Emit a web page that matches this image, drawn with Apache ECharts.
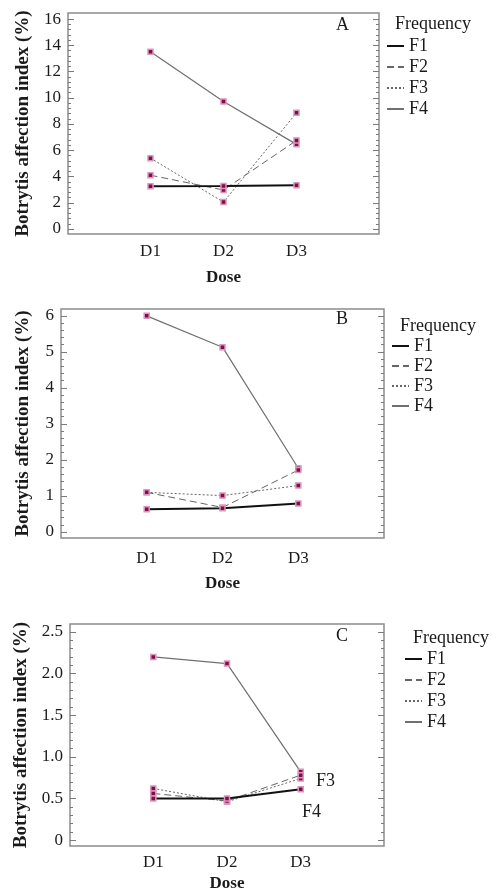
<!DOCTYPE html>
<html>
<head>
<meta charset="utf-8">
<script src="https://cdn.jsdelivr.net/npm/echarts@6/dist/echarts.min.js"></script>
<style>
  html, body { margin: 0; padding: 0; background: #fff; }
  #chart { width: 492px; height: 893px; }
</style>
</head>
<body>
<div id="chart"></div>
<script>
// categories
var doses = ["D1", "D2", "D3"];
var freqs = ["F1", "F2", "F3", "F4"];

// panel A values (F1..F4 over D1..D3)
var aF1 = [3.25, 3.27, 3.33];
var aF2 = [4.1, 2.97, 6.75];
var aF3 = [5.4, 2.05, 8.85];
var aF4 = [13.5, 9.72, 6.45];

// panel B
var bF1 = [0.63, 0.66, 0.79];
var bF2 = [1.1, 0.68, 1.72];
var bF3 = [1.1, 1.01, 1.29];
var bF4 = [6.0, 5.13, 1.77];

// panel C
var cF1 = [0.5, 0.5, 0.61];
var cF2 = [0.56, 0.47, 0.78];
var cF3 = [0.62, 0.46, 0.74];
var cF4 = [2.2, 2.12, 0.82];

// tick labels
var ticksA = [0, 2, 4, 6, 8, 10, 12, 14, 16];
var ticksB = [0, 1, 2, 3, 4, 5, 6];
var ticksC = [0, 0.5, 1.0, 1.5, 2.0, 2.5];
var doseTicks = [0, 1, 2];

function minors(ticks, parts) {
  var out = [];
  for (var i = 0; i < ticks.length - 1; i++) {
    var step = (ticks[i + 1] - ticks[i]) / parts;
    for (var k = 1; k < parts; k++) out.push(+(ticks[i] + step * k).toFixed(4));
  }
  return out;
}

var serif = "'Liberation Serif', 'Times New Roman', serif";
var txt = "#1a1a1a";
var tickColor = "#7a7a7a";

var lineStyles = {
  F1: { color: "#111", width: 2, type: "solid" },
  F2: { color: "#666", width: 1, type: [7, 4] },
  F3: { color: "#666", width: 1, type: [2, 2] },
  F4: { color: "#707070", width: 1.2, type: "solid" }
};

var panels = [
  { grid: { left: 68, top: 13, width: 311, height: 221 }, min: -0.38, max: 16.46, ticks: ticksA,
    fmt: function (v) { return String(v); }, data: [aF1, aF2, aF3, aF4],
    labelMargin: 9, nameGap: 35, yNameGap: 35 },
  { grid: { left: 61, top: 309, width: 323, height: 229 }, min: -0.167, max: 6.19, ticks: ticksB,
    fmt: function (v) { return String(v); }, data: [bF1, bF2, bF3, bF4],
    labelMargin: 12, nameGap: 37, yNameGap: 28 },
  { grid: { left: 70, top: 624, width: 314, height: 224 }, min: -0.071, max: 2.595, ticks: ticksC,
    fmt: function (v) { return v === 0 ? "0" : v.toFixed(1); }, data: [cF1, cF2, cF3, cF4],
    labelMargin: 8, nameGap: 29, yNameGap: 37 }
];

var grids = [], xAxes = [], yAxes = [], series = [];

panels.forEach(function (p, gi) {
  grids.push(Object.assign({ show: true, borderColor: "#8c8c8c", borderWidth: 1.5, backgroundColor: "#fff" }, p.grid));

  xAxes.push({
    type: "value", gridIndex: gi, min: -1.13, max: 3.13,
    name: "Dose", nameLocation: "middle", nameGap: p.nameGap,
    nameTextStyle: { fontFamily: serif, fontSize: 17, fontWeight: "bold", color: txt },
    axisLine: { show: false, onZero: false }, axisTick: { show: false }, splitLine: { show: false },
    axisLabel: {
      customValues: doseTicks, margin: p.labelMargin,
      fontFamily: serif, fontSize: 17, color: txt,
      formatter: function (v) { return doses[Math.round(v)]; }
    }
  });

  var minorVals = minors(p.ticks, 5);
  var base = { type: "value", gridIndex: gi, min: p.min, max: p.max, splitLine: { show: false }, axisLine: { show: false, onZero: false } };
  // left: labels + major ticks
  yAxes.push(Object.assign({}, base, {
    position: "left",
    name: "Botrytis affection index (%)", nameLocation: "middle", nameGap: p.yNameGap,
    nameTextStyle: { fontFamily: serif, fontSize: 19, fontWeight: "bold", color: txt },
    axisTick: { show: true, inside: true, length: 6, customValues: p.ticks, lineStyle: { color: tickColor } },
    axisLabel: { customValues: p.ticks, margin: 7, fontFamily: serif, fontSize: 17, color: txt, formatter: p.fmt }
  }));
  // left minor ticks
  yAxes.push(Object.assign({}, base, {
    position: "left",
    axisTick: { show: true, inside: true, length: 3, customValues: minorVals, lineStyle: { color: tickColor } },
    axisLabel: { show: false }
  }));
  // right majors
  yAxes.push(Object.assign({}, base, {
    position: "right",
    axisTick: { show: true, inside: true, length: 6, customValues: p.ticks, lineStyle: { color: tickColor } },
    axisLabel: { show: false }
  }));
  // right minors
  yAxes.push(Object.assign({}, base, {
    position: "right",
    axisTick: { show: true, inside: true, length: 3, customValues: minorVals, lineStyle: { color: tickColor } },
    axisLabel: { show: false }
  }));

  freqs.forEach(function (f, si) {
    series.push({
      name: f, type: "line", xAxisIndex: gi, yAxisIndex: gi * 4,
      data: p.data[si].map(function (v, i) { return [i, v]; }),
      symbol: "rect", symbolSize: 5,
      itemStyle: { color: "#7d1044", borderColor: "#dd94bd", borderWidth: 1.5 },
      lineStyle: lineStyles[f],
      z: 10 - si
    });
  });
});

var legendBase = {
  orient: "vertical", data: freqs, itemWidth: 17, itemHeight: 14, itemGap: 3, padding: 0,
  itemStyle: { opacity: 0 }, selectedMode: false,
  textStyle: { fontFamily: serif, fontSize: 18, color: txt }
};

var titleText = { fontFamily: serif, fontSize: 18, fontWeight: "normal", color: txt };

var option = {
  backgroundColor: "#fff",
  animation: false,
  grid: grids,
  xAxis: xAxes,
  yAxis: yAxes,
  series: series,
  legend: [
    Object.assign({}, legendBase, { left: 386, top: 37 }),
    Object.assign({}, legendBase, { left: 391, top: 337, itemGap: 2 }),
    Object.assign({}, legendBase, { left: 404, top: 650 })
  ],
  title: [
    { text: "Frequency", left: 395, top: 15, padding: 0, textStyle: titleText },
    { text: "Frequency", left: 400, top: 317, padding: 0, textStyle: titleText },
    { text: "Frequency", left: 413, top: 629, padding: 0, textStyle: titleText },
    { text: "A", left: 336, top: 16, padding: 0, textStyle: titleText },
    { text: "B", left: 336, top: 310, padding: 0, textStyle: titleText },
    { text: "C", left: 336, top: 627, padding: 0, textStyle: titleText }
  ],
  graphic: [
    { type: "text", left: 316, top: 772, style: { text: "F3", font: "18px " + serif, fill: txt } },
    { type: "text", left: 302, top: 803, style: { text: "F4", font: "18px " + serif, fill: txt } }
  ]
};

var chart = echarts.init(document.getElementById("chart"));
chart.setOption(option);
</script>
</body>
</html>
